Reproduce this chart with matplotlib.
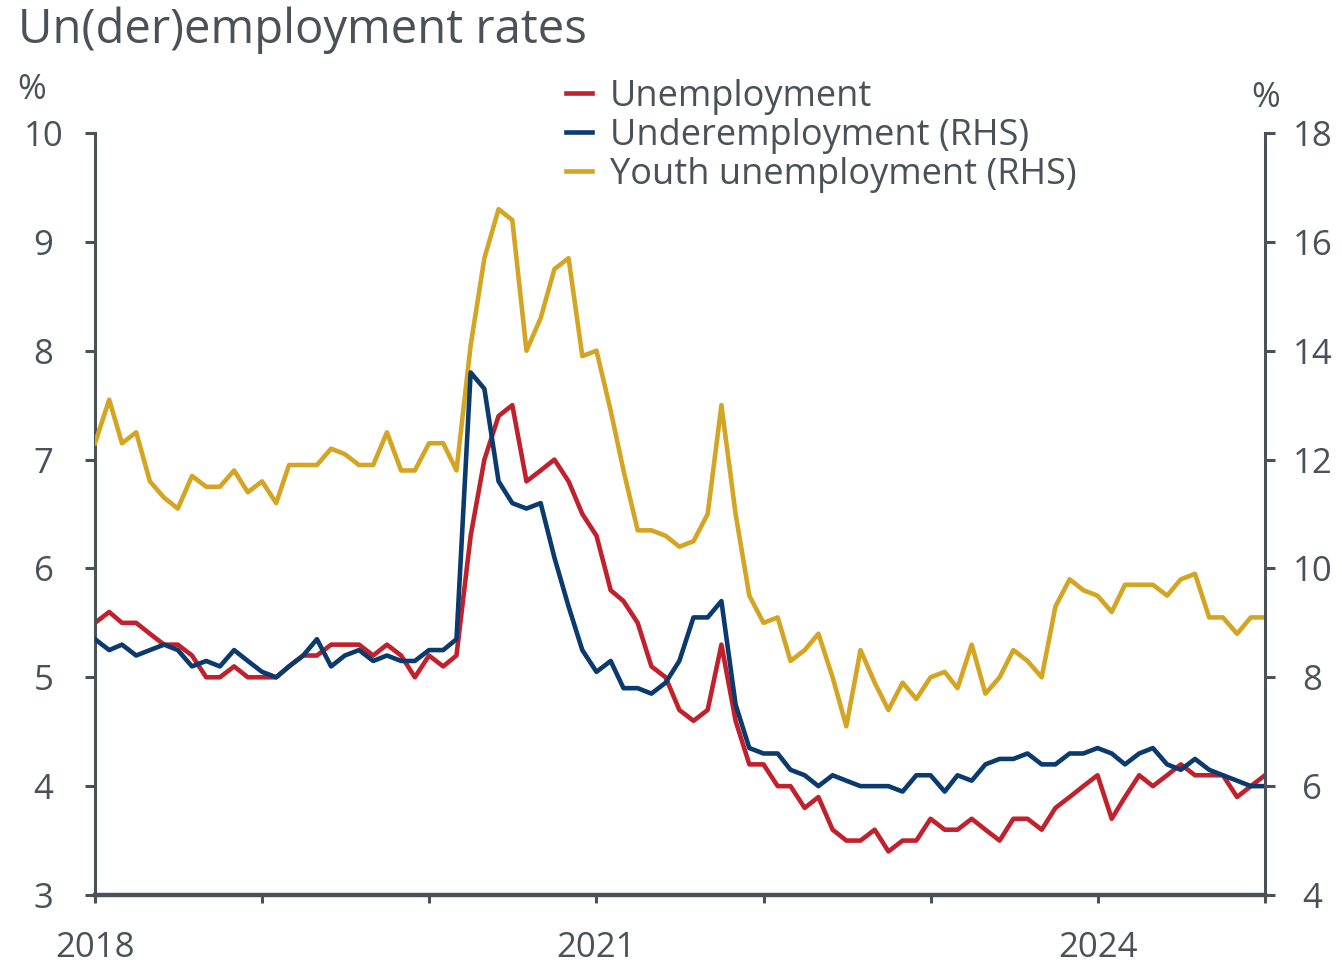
import matplotlib
matplotlib.use('Agg')
import matplotlib.pyplot as plt
import pandas as pd

# Monthly series, Jan 2018 - Jan 2025
months = pd.date_range('2018-01-01', periods=85, freq='MS')

unemployment = [
    5.5, 5.6, 5.5, 5.5, 5.4, 5.3, 5.3, 5.2, 5.0, 5.0, 5.1, 5.0,
    5.0, 5.0, 5.1, 5.2, 5.2, 5.3, 5.3, 5.3, 5.2, 5.3, 5.2, 5.0,
    5.2, 5.1, 5.2, 6.3, 7.0, 7.4, 7.5, 6.8, 6.9, 7.0, 6.8, 6.5,
    6.3, 5.8, 5.7, 5.5, 5.1, 5.0, 4.7, 4.6, 4.7, 5.3, 4.6, 4.2,
    4.2, 4.0, 4.0, 3.8, 3.9, 3.6, 3.5, 3.5, 3.6, 3.4, 3.5, 3.5,
    3.7, 3.6, 3.6, 3.7, 3.6, 3.5, 3.7, 3.7, 3.6, 3.8, 3.9, 4.0,
    4.1, 3.7, 3.9, 4.1, 4.0, 4.1, 4.2, 4.1, 4.1, 4.1, 3.9, 4.0,
    4.1,
]

underemployment = [
    8.7, 8.5, 8.6, 8.4, 8.5, 8.6, 8.5, 8.2, 8.3, 8.2, 8.5, 8.3,
    8.1, 8.0, 8.2, 8.4, 8.7, 8.2, 8.4, 8.5, 8.3, 8.4, 8.3, 8.3,
    8.5, 8.5, 8.7, 13.6, 13.3, 11.6, 11.2, 11.1, 11.2, 10.2, 9.3, 8.5,
    8.1, 8.3, 7.8, 7.8, 7.7, 7.9, 8.3, 9.1, 9.1, 9.4, 7.5, 6.7,
    6.6, 6.6, 6.3, 6.2, 6.0, 6.2, 6.1, 6.0, 6.0, 6.0, 5.9, 6.2,
    6.2, 5.9, 6.2, 6.1, 6.4, 6.5, 6.5, 6.6, 6.4, 6.4, 6.6, 6.6,
    6.7, 6.6, 6.4, 6.6, 6.7, 6.4, 6.3, 6.5, 6.3, 6.2, 6.1, 6.0,
    6.0,
]

youth = [
    12.3, 13.1, 12.3, 12.5, 11.6, 11.3, 11.1, 11.7, 11.5, 11.5, 11.8, 11.4,
    11.6, 11.2, 11.9, 11.9, 11.9, 12.2, 12.1, 11.9, 11.9, 12.5, 11.8, 11.8,
    12.3, 12.3, 11.8, 14.1, 15.7, 16.6, 16.4, 14.0, 14.6, 15.5, 15.7, 13.9,
    14.0, 12.9, 11.8, 10.7, 10.7, 10.6, 10.4, 10.5, 11.0, 13.0, 11.0, 9.5,
    9.0, 9.1, 8.3, 8.5, 8.8, 8.0, 7.1, 8.5, 7.9, 7.4, 7.9, 7.6,
    8.0, 8.1, 7.8, 8.6, 7.7, 8.0, 8.5, 8.3, 8.0, 9.3, 9.8, 9.6,
    9.5, 9.2, 9.7, 9.7, 9.7, 9.5, 9.8, 9.9, 9.1, 9.1, 8.8, 9.1,
    9.1,
]

year_ticks = pd.date_range('2018-01-01', '2025-01-01', freq='YS')
year_labels = ['2018', '', '', '2021', '', '', '2024', '']

RED = '#C1212C'
NAVY = '#0A3A6E'
GOLD = '#D4A423'
GREY = '#4B5158'

plt.rcParams['font.family'] = ['Open Sans', 'DejaVu Sans']

W, H = 1342, 964
fig = plt.figure(figsize=(W / 100, H / 100), dpi=100)
ax = fig.add_axes([95 / W, 1 - 895 / H, 1170 / W, 762 / H])
ax2 = ax.twinx()

lw = 3.3
l1, = ax.plot(months, unemployment, color=RED, lw=lw, label='Unemployment')
l3, = ax2.plot(months, youth, color=GOLD, lw=lw, label='Youth unemployment (RHS)')
l2, = ax2.plot(months, underemployment, color=NAVY, lw=lw, label='Underemployment (RHS)')

ax.set_xlim(months[0], months[-1])
ax.set_ylim(3, 10)
ax2.set_ylim(4, 18)
ax.set_yticks(range(3, 11))
ax2.set_yticks(range(4, 19, 2))
ax.set_xticks(year_ticks)
ax.set_xticklabels(year_labels)

for a in (ax, ax2):
    a.spines['top'].set_visible(False)
    for s in a.spines.values():
        s.set_color(GREY)
        s.set_linewidth(2.2)
ax.spines['right'].set_visible(False)
ax2.spines['left'].set_visible(False)
ax2.spines['bottom'].set_visible(False)
ax.spines['bottom'].set_linewidth(3.2)

ax.tick_params(axis='y', direction='out', length=7, width=2.2, pad=30,
               labelsize=25, colors=GREY)
ax2.tick_params(axis='y', direction='out', length=7, width=2.2, pad=27,
                labelsize=25, colors=GREY)
ax.tick_params(axis='x', direction='out', length=6, width=2.2, pad=20,
               labelsize=25, colors=GREY)
for lab in ax.get_yticklabels() + ax2.get_yticklabels():
    lab.set_ha('center')

fig.text(18 / W, 1 - 43 / H, 'Un(der)employment rates', fontsize=34,
         color=GREY, va='baseline', ha='left')
fig.text(32 / W, 1 - 99 / H, '%', fontsize=25, color=GREY, ha='center', va='baseline')
fig.text(1266 / W, 1 - 107 / H, '%', fontsize=25, color=GREY, ha='center', va='baseline')

leg = fig.legend(handles=[l1, l2, l3], loc='upper left',
                 bbox_to_anchor=(566 / W, 1 - 79 / H), frameon=False,
                 fontsize=26, handlelength=0.72, handletextpad=0.5,
                 labelspacing=0.08, borderpad=0, borderaxespad=0)
for t in leg.get_texts():
    t.set_color(GREY)

fig.savefig('out.png', dpi=100)
